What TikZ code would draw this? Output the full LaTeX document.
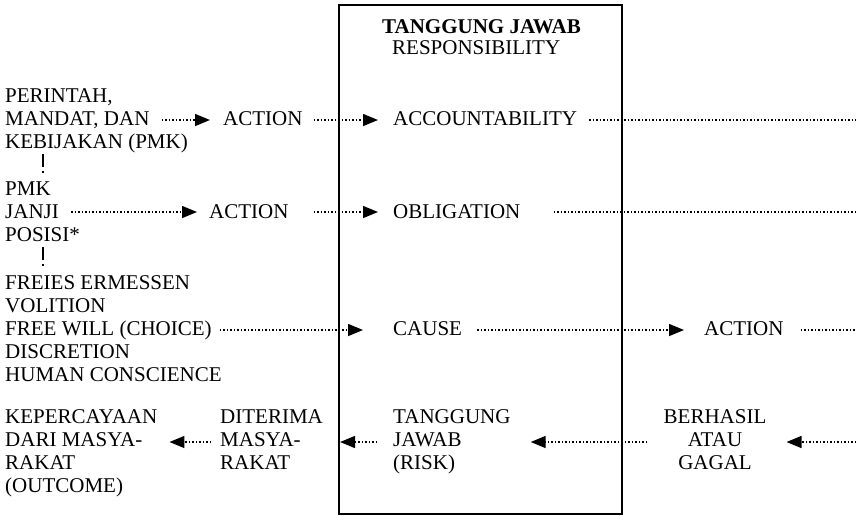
\documentclass[tikz,border=0pt]{standalone}
\usepackage{fontspec}
\setmainfont{Liberation Serif}
\usetikzlibrary{arrows.meta}
\begin{document}
\begin{tikzpicture}[x=1pt,y=-1pt,
  txt/.style={inner sep=0pt, anchor=base west, font=\fontsize{21}{23}\selectfont},
  ctxt/.style={txt, anchor=base},
  dotline/.style={line width=1.5pt, dash pattern=on 1.5pt off 2pt},
  dotarrow/.style={dotline, -{Triangle[length=15pt,width=12pt]}},
  vdash/.style={line width=1.1pt, dash pattern=on 13pt off 4pt on 2pt off 20pt},
  frame/.style={draw, line width=1.5pt, inner sep=0pt, anchor=north west}
]
\useasboundingbox (0,0) rectangle (856,515);

% central box
\node[frame, minimum width=283pt, minimum height=509pt] (box) at (338,4) {};
\node[txt, font=\fontsize{21}{23}\selectfont\bfseries] (title) at (382,33) {TANGGUNG JAWAB};
\node[txt] (resp) at (392,54) {RESPONSIBILITY};

% left column
\node[txt] (perintah) at (5,102) {PERINTAH,};
\node[txt] (mandat) at (5,125) {MANDAT, DAN};
\node[txt] (kebijakan) at (5,148) {KEBIJAKAN (PMK)};
\node[txt] (pmk) at (5,195) {PMK};
\node[txt] (janji) at (5,218) {JANJI};
\node[txt] (posisi) at (5,241) {POSISI*};
\node[txt] (freies) at (5,289) {FREIES ERMESSEN};
\node[txt] (volition) at (5,312) {VOLITION};
\node[txt] (freewill) at (5,335) {FREE WILL (CHOICE)};
\node[txt] (discretion) at (5,358) {DISCRETION};
\node[txt] (conscience) at (5,381) {HUMAN CONSCIENCE};
\node[txt] (trust) at (5,423) {\begin{tabular}[t]{@{}l@{}}KEPERCAYAAN\\DARI MASYA-\\RAKAT\\(OUTCOME)\end{tabular}};

% middle columns
\node[txt] (act1) at (223,125) {ACTION};
\node[txt] (act2) at (209,218) {ACTION};
\node[txt] (accepted) at (220,423) {\begin{tabular}[t]{@{}l@{}}DITERIMA\\MASYA-\\RAKAT\end{tabular}};

% inside the box
\node[txt] (acc) at (393,125) {ACCOUNTABILITY};
\node[txt] (obl) at (393,218) {OBLIGATION};
\node[txt] (cause) at (393,335) {CAUSE};
\node[txt] (risk) at (393,423) {\begin{tabular}[t]{@{}l@{}}TANGGUNG\\JAWAB\\(RISK)\end{tabular}};

% right side
\node[txt] (act3) at (704,335) {ACTION};
\node[ctxt] (result) at (715,423) {\begin{tabular}[t]{@{}c@{}}BERHASIL\\ATAU\\GAGAL\end{tabular}};

% open ends at the right margin
\coordinate (out1) at (856,120);
\coordinate (out2) at (856,212);
\coordinate (out3) at (856,330);
\coordinate (in4) at (856,442);

% vertical links in the left column
\draw[vdash] ([xshift=38pt,yshift=-6pt]kebijakan.base west) -- ([xshift=38pt,yshift=19pt]pmk.base west);
\draw[vdash] ([xshift=38pt,yshift=-6pt]posisi.base west) -- ([xshift=38pt,yshift=19pt]freies.base west);

% row 1
\draw[dotarrow] ([xshift=12pt,yshift=5pt]mandat.base east) -- ([xshift=-13pt,yshift=5pt]act1.base west);
\draw[dotarrow] ([xshift=11pt,yshift=5pt]act1.base east) -- ([xshift=-15pt,yshift=5pt]acc.base west);
\draw[dotline] ([xshift=12pt,yshift=5pt]acc.base east) -- (out1);

% row 2
\draw[dotarrow] ([xshift=12pt,yshift=6pt]janji.base east) -- ([xshift=-12pt,yshift=6pt]act2.base west);
\draw[dotarrow] ([xshift=25pt,yshift=6pt]act2.base east) -- ([xshift=-15pt,yshift=6pt]obl.base west);
\draw[dotline] ([xshift=33pt,yshift=6pt]obl.base east) -- (out2);

% row 3
\draw[dotarrow] ([xshift=8pt,yshift=5pt]freewill.base east) -- ([xshift=-30pt,yshift=5pt]cause.base west);
\draw[dotarrow] ([xshift=15pt,yshift=5pt]cause.base east) -- ([xshift=-20pt,yshift=5pt]act3.base west);
\draw[dotline] ([xshift=17pt,yshift=5pt]act3.base east) -- (out3);

% row 4, running back to the left
\draw[dotarrow] (in4) -- ([xshift=20pt,yshift=-19pt]result.base east);
\draw[dotarrow] ([xshift=-16pt,yshift=-19pt]result.base west) -- ([xshift=20pt,yshift=-19pt]risk.base east);
\draw[dotarrow] ([xshift=-16pt,yshift=-19pt]risk.base west) -- ([xshift=17pt,yshift=-19pt]accepted.base east);
\draw[dotarrow] ([xshift=-9pt,yshift=-19pt]accepted.base west) -- ([xshift=12pt,yshift=-19pt]trust.base east);
\end{tikzpicture}
\end{document}
